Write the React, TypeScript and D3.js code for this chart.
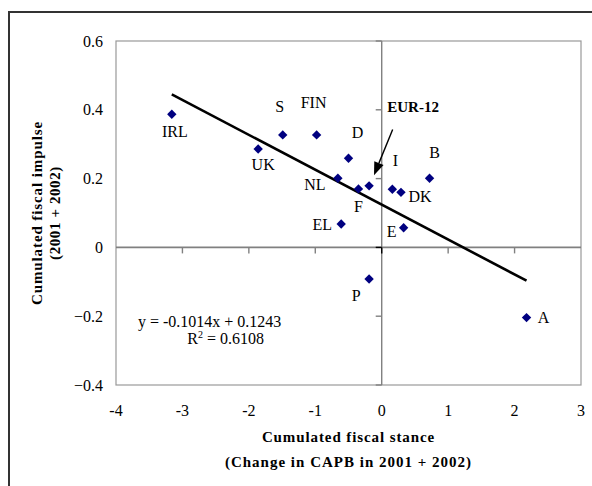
import React from "react";
import * as d3 from "d3";

const countries = ["IRL", "UK", "S", "FIN", "D", "NL", "EL", "F", "EUR-12", "I", "DK", "B", "E", "P", "A"];
const stance = [-3.16, -1.86, -1.49, -0.98, -0.5, -0.66, -0.61, -0.35, -0.19, 0.16, 0.29, 0.72, 0.33, -0.19, 2.18];
const impulse = [0.387, 0.286, 0.327, 0.327, 0.259, 0.201, 0.068, 0.17, 0.179, 0.169, 0.16, 0.201, 0.057, -0.092, -0.204];
const xTicks = [-4, -3, -2, -1, 0, 1, 2, 3];
const yTicks = [-0.4, -0.2, 0, 0.2, 0.4, 0.6];
const slope = -0.1014;
const intercept = 0.1243;
const r2 = 0.6108;
const xTitle = ["Cumulated fiscal stance", "(Change in CAPB in 2001 + 2002)"];
const yTitle = ["Cumulated fiscal impulse", "(2001 + 2002)"];
// EUR-12 annotation arrow, in data units [from, to]
const arrowFrom = [0.165, 0.343];
const arrowTo = [-0.116, 0.21];

// label placement offsets (px) relative to the marker
const labelOffsets: Record<string, [number, number]> = {
  IRL: [3, 17], UK: [5, 15], S: [-3, -29], FIN: [-3, -33], D: [9, -26], NL: [-23, 6],
  EL: [-19, 0], F: [0, 17], I: [3, -29], DK: [19, 4], B: [5, -26], E: [-12, 4],
  P: [-13, 16], A: [17, 0], "EUR-12": [44, -79],
};

const W = 592, H = 486;
const M = { left: 116, right: 581, top: 41, bottom: 385 };
const FONT = '"Liberation Serif", "Times New Roman", serif';

export default function App() {
  const x = d3.scaleLinear().domain([-4, 3]).range([M.left, M.right]);
  const y = d3.scaleLinear().domain([-0.4, 0.6]).range([M.bottom, M.top]);
  const diamond = d3.symbol().type(d3.symbolSquare).size(44)();
  const [xmin, xmax] = d3.extent(stance) as [number, number];
  const trend = d3.line<number>().x((v) => x(v)).y((v) => y(slope * v + intercept))([xmin, xmax]);

  const ax0 = x(arrowFrom[0]), ay0 = y(arrowFrom[1]);
  const ax1 = x(arrowTo[0]), ay1 = y(arrowTo[1]);
  const ang = Math.atan2(ay1 - ay0, ax1 - ax0);
  const headLen = 13, headW = 5;
  const bx = ax1 - headLen * Math.cos(ang), by = ay1 - headLen * Math.sin(ang);
  const head = [
    [ax1, ay1],
    [bx + headW * Math.sin(ang), by - headW * Math.cos(ang)],
    [bx - headW * Math.sin(ang), by + headW * Math.cos(ang)],
  ];

  const x0 = x(0), y0 = y(0);
  const plotCx = (M.left + M.right) / 2;
  const plotCy = (M.top + M.bottom) / 2;

  return (
    <svg width={W} height={H} style={{ position: "absolute", left: 0, top: 0, background: "#fff" }} fontFamily={FONT}>
      <rect x={0} y={0} width={W} height={H} fill="#fff" />
      <rect x={9} y={12} width={W + 20} height={H + 20} fill="none" stroke="#333" strokeWidth={2} />
      {/* plot box */}
      <rect x={M.left} y={M.top} width={M.right - M.left} height={M.bottom - M.top} fill="none" stroke="#999" strokeWidth={1.2} />
      {/* zero axes */}
      <line x1={M.left} x2={M.right} y1={y0} y2={y0} stroke="#808080" strokeWidth={1.6} />
      <line x1={x0} x2={x0} y1={M.top} y2={M.bottom} stroke="#808080" strokeWidth={1.4} />
      {xTicks.filter((t) => t > -4 && t < 3).map((t) => (
        <line key={"xt" + t} x1={x(t)} x2={x(t)} y1={y0} y2={y0 + 6} stroke={t === 0 ? "#000" : "#808080"} strokeWidth={1.4} />
      ))}
      {yTicks.map((t) => (
        <line key={"yt" + t} x1={x0 - 6} x2={x0} y1={y(t)} y2={y(t)} stroke={t === 0 ? "#000" : "#808080"} strokeWidth={1.4} />
      ))}
      {/* tick labels */}
      {yTicks.map((t) => (
        <text key={"yl" + t} x={103} y={y(t)} dy="0.35em" textAnchor="end" fontSize={16}>
          {d3.format("")(+t.toFixed(1))}
        </text>
      ))}
      {xTicks.map((t) => (
        <text key={"xl" + t} x={x(t)} y={410} dy="0.35em" textAnchor="middle" fontSize={16}>
          {t}
        </text>
      ))}
      {/* axis titles */}
      <text x={plotCx} y={437} dy="0.35em" textAnchor="middle" fontSize={15} fontWeight="bold" letterSpacing={0.9}>
        {xTitle[0]}
      </text>
      <text x={plotCx} y={462} dy="0.35em" textAnchor="middle" fontSize={15} fontWeight="bold" letterSpacing={1}>
        {xTitle[1]}
      </text>
      <text transform={`translate(37,${plotCy}) rotate(-90)`} dy="0.35em" textAnchor="middle" fontSize={15} fontWeight="bold" letterSpacing={0.9}>
        {yTitle[0]}
      </text>
      <text transform={`translate(55,${plotCy}) rotate(-90)`} dy="0.35em" textAnchor="middle" fontSize={15} fontWeight="bold" letterSpacing={0.6}>
        {yTitle[1]}
      </text>
      {/* trend line */}
      <path d={trend || ""} stroke="#000" strokeWidth={2.6} fill="none" />
      {/* markers */}
      {countries.map((c, i) => (
        <path key={"m" + c} d={diamond || ""} transform={`translate(${x(stance[i])},${y(impulse[i])}) rotate(45)`} fill="#000080" />
      ))}
      {/* labels */}
      {countries.map((c, i) => {
        const [dx, dy] = labelOffsets[c] || [0, 0];
        return (
          <text key={"l" + c} x={x(stance[i]) + dx} y={y(impulse[i]) + dy} dy="0.35em" textAnchor="middle"
            fontSize={c === "EUR-12" ? 15 : 16} fontWeight={c === "EUR-12" ? "bold" : "normal"}>
            {c}
          </text>
        );
      })}
      {/* EUR-12 arrow */}
      <line x1={ax0} y1={ay0} x2={bx} y2={by} stroke="#000" strokeWidth={1.4} />
      <polygon points={head.map((p) => p.join(",")).join(" ")} fill="#000" />
      {/* regression text */}
      <text x={x(-2.59)} y={y(-0.215)} dy="0.35em" textAnchor="middle" fontSize={16}>
        {`y = ${slope}x + ${intercept}`}
      </text>
      <text x={x(-2.59) + 16} y={y(-0.215) + 17} dy="0.35em" textAnchor="middle" fontSize={16}>
        R<tspan dy="-6" fontSize={10}>2</tspan><tspan dy="6"> = {r2}</tspan>
      </text>
    </svg>
  );
}
